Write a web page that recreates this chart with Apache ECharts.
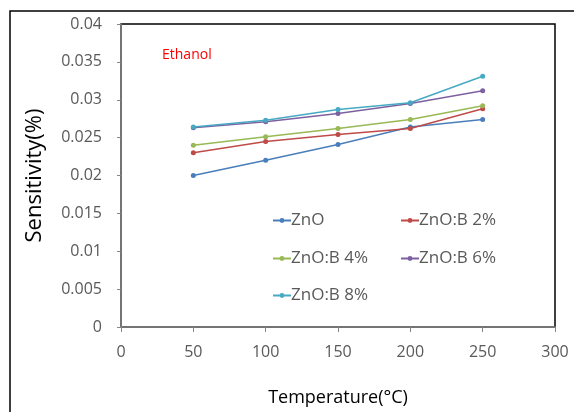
<!DOCTYPE html>
<html>
<head>
<meta charset="utf-8">
<script src="https://cdn.jsdelivr.net/npm/echarts@6/dist/echarts.min.js"></script>
<style>
  html, body { margin: 0; padding: 0; background: #fff; }
  #chart { width: 574px; height: 412px; }
</style>
</head>
<body>
<div id="chart"></div>
<script>
// temperature points (°C)
const temps = [50, 100, 150, 200, 250];
const seriesNames = ['ZnO', 'ZnO:B 2%', 'ZnO:B 4%', 'ZnO:B 6%', 'ZnO:B 8%'];
const znO   = [0.0200, 0.0220, 0.0241, 0.0264, 0.0274];
const znB2  = [0.0230, 0.0245, 0.0254, 0.0262, 0.0288];
const znB4  = [0.0240, 0.0251, 0.0262, 0.0274, 0.0292];
const znB6  = [0.0263, 0.0271, 0.0282, 0.0295, 0.0312];
const znB8  = [0.0264, 0.0273, 0.0287, 0.0296, 0.0331];
const colors = ['#4a7ebb', '#be4b48', '#98b954', '#7d60a0', '#46aac5'];

const allValues = [znO, znB2, znB4, znB6, znB8];
const font = 'Open Sans, Noto Sans, sans-serif';

const chart = echarts.init(document.getElementById('chart'));

// 每个图例单独定位，模仿两列排布
const legendPos = [
  { left: 267, top: 207 },
  { left: 395, top: 207 },
  { left: 267, top: 245 },
  { left: 395, top: 245 },
  { left: 267, top: 282 }
];

chart.setOption({
  animation: false,
  color: colors,
  textStyle: { fontFamily: font },
  grid: {
    left: 121, top: 24, right: 19, bottom: 85,
    show: true,
    borderColor: '#000',
    borderWidth: 1.5
  },
  graphic: [
    {
      type: 'rect',
      shape: { x: 10, y: 11, width: 600, height: 450 },
      style: { fill: 'none', stroke: '#000', lineWidth: 1.5 },
      z: -1
    },
    {
      type: 'text',
      left: 162, top: 48,
      style: { text: 'Ethanol', fill: '#ff0000', font: '14px ' + font }
    }
  ],
  legend: legendPos.map((p, i) => ({
    data: [seriesNames[i]],
    left: p.left,
    top: p.top,
    itemWidth: 18,
    itemHeight: 6,
    itemGap: 0,
    textStyle: { color: '#595959', fontSize: 17, fontFamily: font, padding: [0, 0, 0, -5] }
  })),
  xAxis: {
    type: 'value',
    min: 0, max: 300, interval: 50,
    name: 'Temperature(°C)',
    nameLocation: 'middle',
    nameGap: 62,
    nameTextStyle: { color: '#000', fontSize: 18, fontFamily: font },
    splitLine: { show: false },
    axisLine: { lineStyle: { color: '#868686', width: 1.5 } },
    axisTick: { show: true, length: 5, lineStyle: { color: '#868686' } },
    axisLabel: { color: '#595959', fontSize: 16, margin: 17 }
  },
  yAxis: {
    type: 'value',
    min: 0, max: 0.04, interval: 0.005,
    name: 'Sensitivity(%)',
    nameLocation: 'middle',
    nameGap: 75,
    nameTextStyle: { color: '#000', fontSize: 22, fontFamily: font },
    splitLine: { show: false },
    axisLine: { show: true, lineStyle: { color: '#868686', width: 1.5 } },
    axisTick: { show: true, length: 4, lineStyle: { color: '#868686' } },
    axisLabel: { color: '#595959', fontSize: 16, margin: 19 }
  },
  series: allValues.map((vals, i) => ({
    name: seriesNames[i],
    type: 'line',
    data: temps.map((t, j) => [t, vals[j]]),
    symbol: 'circle',
    symbolSize: 5,
    lineStyle: { width: 1.5 }
  }))
});
</script>
</body>
</html>
